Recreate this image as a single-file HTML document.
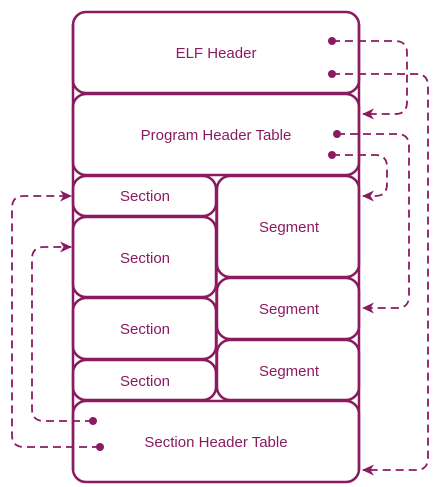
<!DOCTYPE html>
<html><head><meta charset="utf-8"><style>
html,body{margin:0;padding:0;background:#fff;}
svg{display:block;}
text{font-family:"Liberation Sans",sans-serif;font-size:15px;fill:#8a1b61;text-anchor:middle;}
</style></head><body>
<svg width="442" height="487" viewBox="0 0 442 487" xmlns="http://www.w3.org/2000/svg">
<defs>
<marker id="a" markerWidth="12" markerHeight="12" refX="11" refY="6" orient="auto" markerUnits="userSpaceOnUse">
<path d="M0,0.5 L12,6 L0,11.5 L3.5,6 Z" fill="#8a1b61"/>
</marker>
</defs>
<g fill="none" stroke="#8a1b61" stroke-width="2.5">
<line x1="73" y1="24" x2="73" y2="470"/>
<line x1="359" y1="24" x2="359" y2="470"/>
<line x1="216.5" y1="188" x2="216.5" y2="388"/>
<rect x="73" y="12" width="286" height="81" rx="13"/>
<rect x="73" y="94" width="286" height="81" rx="13"/>
<rect x="73" y="176" width="143" height="40" rx="13"/>
<rect x="73" y="217" width="143" height="80" rx="13"/>
<rect x="73" y="298" width="143" height="61" rx="13"/>
<rect x="73" y="360" width="143" height="40" rx="13"/>
<rect x="217" y="176" width="142" height="101" rx="13"/>
<rect x="217" y="278" width="142" height="61" rx="13"/>
<rect x="217" y="340" width="142" height="60" rx="13"/>
<rect x="73" y="401" width="286" height="81" rx="13"/>
</g>
<g fill="none" stroke="#8a1b61" stroke-width="1.8" stroke-dasharray="8,5">
<path d="M332,41 H395 Q407,41 407,53 V102 Q407,114 395,114 H363" marker-end="url(#a)"/>
<path d="M332,74 H416 Q428,74 428,86 V458 Q428,470 416,470 H363" marker-end="url(#a)"/>
<path d="M337,134 H397 Q409,134 409,146 V296 Q409,308 397,308 H363" marker-end="url(#a)"/>
<path d="M332,155 H375 Q387,155 387,167 V184 Q387,196 375,196 H363" marker-end="url(#a)"/>
<path d="M93,421 H44 Q32,421 32,409 V259 Q32,247 44,247 H71" marker-end="url(#a)"/>
<path d="M100,447 H24 Q12,447 12,435 V208 Q12,196 24,196 H71" marker-end="url(#a)"/>
</g>
<g fill="#8a1b61">
<circle cx="332" cy="41" r="4"/>
<circle cx="332" cy="74" r="4"/>
<circle cx="337" cy="134" r="4"/>
<circle cx="332" cy="155" r="4"/>
<circle cx="93" cy="421" r="4"/>
<circle cx="100" cy="447" r="4"/>
</g>
<text x="216" y="58">ELF Header</text>
<text x="216" y="140">Program Header Table</text>
<text x="145" y="201">Section</text>
<text x="145" y="263">Section</text>
<text x="145" y="334">Section</text>
<text x="145" y="386">Section</text>
<text x="289" y="232">Segment</text>
<text x="289" y="314">Segment</text>
<text x="289" y="376">Segment</text>
<text x="216" y="447">Section Header Table</text>
</svg>
</body></html>
